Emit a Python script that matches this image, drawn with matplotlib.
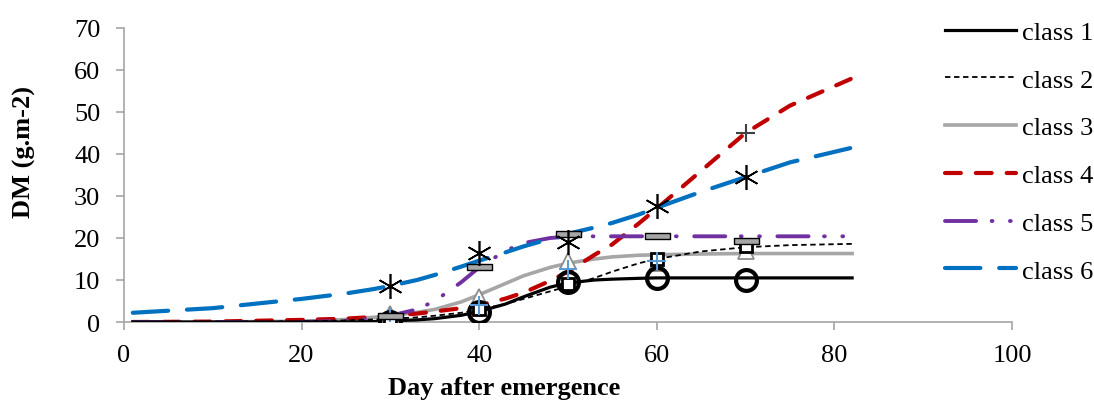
import matplotlib.pyplot as plt
from matplotlib.lines import Line2D

# fitted curves
days = [1, 10, 20, 25, 28, 30, 33, 35, 38, 40, 43, 45, 48, 50, 53, 55, 58, 60, 65, 70, 75, 82]
class1 = [0, 0, 0, 0, 0.1, 0.3, 0.5, 0.8, 1.6, 2.5, 4.3, 6.0, 8.3, 9.3, 10.0, 10.2, 10.4, 10.5, 10.5, 10.5, 10.5, 10.5]
class2 = [0, 0, 0.1, 0.4, 0.6, 0.8, 1.1, 1.5, 2.2, 3.0, 4.3, 5.5, 7.3, 8.5, 10.5, 12.0, 14.0, 15.0, 16.8, 17.8, 18.3, 18.6]
class3 = [0, 0, 0.2, 0.6, 1.1, 1.5, 2.3, 3.0, 4.8, 6.5, 9.2, 11.0, 13.0, 14.0, 15.0, 15.5, 15.9, 16.0, 16.2, 16.3, 16.3, 16.3]
class4 = [0, 0.1, 0.5, 0.8, 1.2, 1.5, 2.0, 2.5, 3.3, 4.0, 5.6, 7.0, 9.8, 12.0, 16.0, 18.5, 23.5, 27.0, 36.0, 45.0, 51.5, 58.0]
class5 = [0, 0, 0, 0.3, 0.8, 1.5, 3.0, 5.0, 9.5, 13.0, 17.0, 18.8, 20.0, 20.3, 20.4, 20.4, 20.4, 20.4, 20.4, 20.4, 20.4, 20.4]
class6 = [2.2, 3.3, 5.5, 6.8, 7.8, 8.6, 10.0, 11.2, 13.2, 14.6, 16.6, 18.0, 19.8, 21.0, 22.5, 23.6, 25.6, 27.2, 31.0, 34.5, 38.0, 41.5]

# observed points
obs_days = [30, 40, 50, 60, 70]
obs1 = [0, 2.3, 9.5, 10.5, 10.0]
obs2 = [0.5, 3.0, 9.0, 15.0, 18.0]
obs3 = [2.0, 6.0, 14.5, 14.0, 17.0]
obs4 = [1.0, 4.0, 12.5, 14.5, 45.0]
obs5 = [1.5, 13.0, 21.0, 20.5, 19.3]
obs6 = [8.5, 16.5, 19.0, 27.5, 34.5]

labels = ['class 1', 'class 2', 'class 3', 'class 4', 'class 5', 'class 6']

plt.rcParams['font.family'] = ['Liberation Serif', 'DejaVu Serif']

fig = plt.figure(figsize=(10.94, 4.02), dpi=100)
ax = fig.add_axes([0.1133, 0.1965, 0.8117, 0.7315])

red = '#C00000'
purple = '#7030A0'
blue = '#0070C0'
grey = '#A6A6A6'

# curves
ax.plot(days, class1, color='black', lw=2.3, label=labels[0], zorder=3)
ax.plot(days, class2, color='black', lw=1.3, dashes=(3, 2), label=labels[1], zorder=3)
ax.plot(days, class3, color=grey, lw=2.6, label=labels[2], zorder=2)
ax.plot(days, class4, color=red, lw=3, dashes=(3.8, 3.6), dash_capstyle='round', label=labels[3], zorder=2)
ax.plot(days, class5, color=purple, lw=2.8, dashes=(8, 4, 0.2, 4.5, 0.2, 4.5), dash_capstyle='round', label=labels[4], zorder=2)
ax.plot(days, class6, color=blue, lw=3, dashes=(8.5, 4.5), dash_capstyle='round', label=labels[5], zorder=2)

# markers
bar = [(-1, -0.22), (1, -0.22), (1, 0.22), (-1, 0.22), (-1, -0.22)]
ax.plot(obs_days, obs3, ls='none', marker='^', ms=12, mfc='white', mec='#8C8C8C', mew=1.3, zorder=4)
ax.plot(obs_days, obs2, ls='none', marker='s', ms=9, mfc='white', mec='black', mew=2, zorder=4)
ax.plot(obs_days, obs1, ls='none', marker='o', ms=15, mfc='none', mec='black', mew=3, zorder=5)
ax.scatter(obs_days, obs4, marker='+', s=180, c=['#5B9BD5', '#5B9BD5', '#5B9BD5', '#5B9BD5', '#404040'],
           linewidths=1.5, zorder=6)
ax.plot(obs_days, obs5, ls='none', marker=bar, ms=18, mfc='#A6A6A6', mec='black', mew=1, zorder=6)
ax.plot(obs_days, obs6, ls='none', marker=(6, 2, 0), ms=18, mec='black', mew=1.2, zorder=6)

ax.set_xlim(0, 100)
ax.set_ylim(0, 70)
ax.set_xticks(range(0, 101, 20))
ax.set_yticks(range(0, 71, 10))
for s in ['top', 'right']:
    ax.spines[s].set_visible(False)
for s in ['left', 'bottom']:
    ax.spines[s].set_color('#A6A6A6')
    ax.spines[s].set_linewidth(1.2)
ax.tick_params(colors='#A6A6A6', labelcolor='black', labelsize=19, length=6, width=1.2)
ax.tick_params(axis='y', pad=11)
ax.tick_params(axis='x', pad=10)

ax.set_xlabel('Day after emergence', fontsize=19, fontweight='bold')
ax.xaxis.set_label_coords(0.428, -0.185)
ax.set_ylabel('DM (g.m-2)', fontsize=19, fontweight='bold')
ax.yaxis.set_label_coords(-0.099, 0.58)

# legend on the right
handles = [Line2D([], [], color='black', lw=2.3),
           Line2D([], [], color='black', lw=1.3, dashes=(3, 2)),
           Line2D([], [], color=grey, lw=2.6),
           Line2D([], [], color=red, lw=3, dashes=(3.8, 3.6), dash_capstyle='round'),
           Line2D([], [], color=purple, lw=2.8, dashes=(8, 4, 0.2, 4.5, 0.2, 4.5), dash_capstyle='round'),
           Line2D([], [], color=blue, lw=3, dashes=(8.5, 4.5), dash_capstyle='round')]
fig.legend(handles, labels, loc='upper left', bbox_to_anchor=(0.859, 0.96), frameon=False,
           fontsize=19, handlelength=2.7, handletextpad=0.2, labelspacing=0.92,
           borderaxespad=0, borderpad=0.2)

fig.savefig('out.png', dpi=100)
